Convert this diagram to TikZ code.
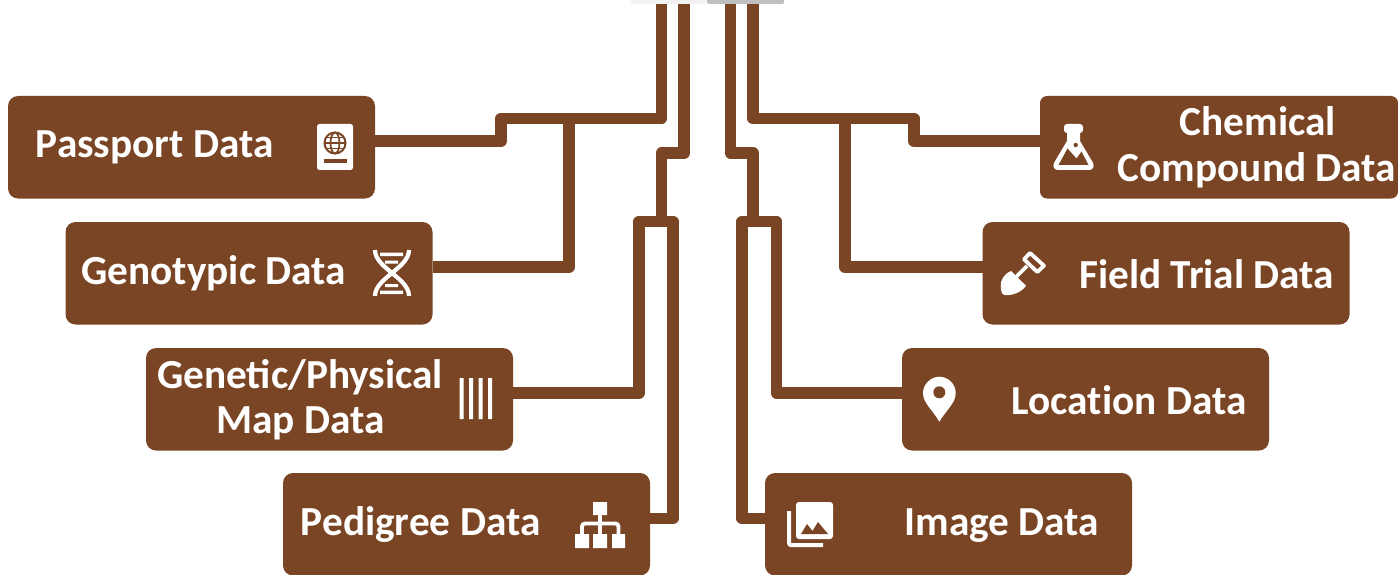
\documentclass[tikz,border=0pt]{standalone}
\usepackage{fontspec}
\setmainfont{Carlito}[Ligatures=Common]
\definecolor{bark}{HTML}{7A4524}
\definecolor{barL}{HTML}{F2F2F2}
\definecolor{barD}{HTML}{BFBFBF}
\tikzset{
  databox/.style={fill=bark,draw=none,rounded corners=10pt,minimum width=367pt,minimum height=102.5pt,inner sep=0pt,outer sep=0pt,anchor=north west},
  lbl/.style={text=white,font=\fontsize{41.3}{41.3}\selectfont\bfseries,inner sep=0pt,outer sep=0pt,anchor=base},
  wire/.style={draw=bark,line width=11.6pt,line join=round},
  iconw/.style={fill=white,draw=none},
  iconb/.style={fill=bark,draw=none},
  iconl/.style={draw=white,fill=none,line width=4.2pt},
}
\begin{document}
\begin{tikzpicture}[x=1pt,y=-1pt]
\useasboundingbox (0,0) rectangle (1398,575);
\clip (0,0) rectangle (1398,575);
% top bars
\fill[barL,rounded corners=2pt] (631,-6) rectangle (707,4);
\fill[barD,rounded corners=2pt] (707,-6) rectangle (784,4);
\coordinate (topA) at (661.5,4);
\coordinate (topB) at (684,4);
\coordinate (topC) at (730.5,4);
\coordinate (topD) at (753,4);
% boxes
\node[databox] (passport) at (8,96) {};
\node[databox] (genotypic) at (65.5,222) {};
\node[databox] (genetic) at (146,348) {};
\node[databox] (pedigree) at (283,473) {};
\node[databox,minimum width=358pt,rounded corners=7pt] (chemical) at (1040,96) {};
\node[databox] (field) at (982.5,222) {};
\node[databox] (location) at (902,348) {};
\node[databox] (image) at (765,473) {};
% junctions
\coordinate (jA) at (569,118.5);
\coordinate (jB) at (661.5,221.5);
\coordinate (jC) at (753,221.5);
\coordinate (jD) at (845,118.5);
% wires
\draw[wire] (topA) |- (501,118.5) |- (passport.east |- 0,141);
\draw[wire] (jA) |- (genotypic.east |- 0,267);
\draw[wire] (topB) |- (661.5,153) -- (jB);
\draw[wire] (jB) -| (639,393) -- (genetic.east |- 0,393);
\draw[wire] (jB) -| (673,518.5) -- (pedigree.east |- 0,518.5);
\draw[wire] (topC) |- (753,153) -- (jC);
\draw[wire] (jC) -| (742,518.5) -- (image.west |- 0,518.5);
\draw[wire] (jC) -| (776.5,393) -- (location.west |- 0,393);
\draw[wire] (topD) |- (914,118.5) |- (chemical.west |- 0,141);
\draw[wire] (jD) |- (field.west |- 0,267);
% labels
\node[lbl] (tPassport) at (154.7,158) {Passport Data};
\node[lbl] (tGenotypic) at (213.7,284) {Genotypic Data};
\node[lbl] (tGenetic) at (300,388.5) {Genetic/Physical};
\node[lbl] (tMap) at (300.5,433.5) {Map Data};
\node[lbl] (tPedigree) at (420.7,535.5) {Pedigree Data};
\node[lbl] (tChemical) at (1257.7,136) {Chemical};
\node[lbl] (tCompound) at (1257,182) {Compound Data};
\node[lbl] (tField) at (1206.7,288) {Field Trial Data};
\node[lbl] (tLocation) at (1129,414) {Locat\kern0pt ion Data};
\node[lbl] (tImage) at (1001.7,535.5) {Image Data};
% passport icon
\fill[iconw,rounded corners=2.5pt] (317,124) rectangle (353,170);
\draw[bark,line width=2pt] (335,143) circle (10.5);
\draw[bark,line width=1.7pt] (335,143) ellipse (4.5 and 10.5);
\draw[bark,line width=1.7pt] (324.5,143) -- (345.5,143) (326,137.5) -- (344,137.5) (326,148.5) -- (344,148.5);
\fill[bark] (324,159) rectangle (347,163);
% DNA icon
\draw[iconl] (375,250) .. controls (375,268) and (409,278) .. (409,296);
\draw[iconl] (409,250) .. controls (409,268) and (375,278) .. (375,296);
\fill[iconw] (380,252.7) rectangle (403,256) (385,260.5) rectangle (398,263.5) (385,284) rectangle (398,287) (380,290.7) rectangle (403,294);
% map icon
\fill[iconw] (459.5,378) rectangle (463.5,419) (469,378) rectangle (473,419) (478.5,378) rectangle (482.5,419) (488,378) rectangle (492,419);
% pedigree icon
\fill[iconw] (593,502) rectangle (607,515) (575,534) rectangle (589,548) (593,534) rectangle (607,548) (612,534) rectangle (625,548);
\draw[draw=white,line width=3.8pt,rounded corners=3pt] (582,534) |- (618.5,523.5) -- (618.5,534);
\draw[draw=white,line width=3.8pt] (600,515) -- (600,534);
% image icon
\fill[iconw,rounded corners=3pt] (796,502) rectangle (833,539);
\fill[bark] (801,534) -- (807,524) -- (812.5,531) -- (818,522) -- (828,534) -- cycle;
\draw[draw=white,line width=4pt,rounded corners=2pt] (789,511) |- (823,545);
% flask icon
\fill[iconw,rounded corners=3pt] (1064,124) rectangle (1083,133);
\fill[iconw] (1067,130) -- (1067,141) -- (1054.5,162) .. controls (1052,166.5) and (1054,170) .. (1058,170) -- (1089,170) .. controls (1093,170) and (1095,166.5) .. (1092.5,162) -- (1080,141) -- (1080,130) -- cycle;
\fill[bark] (1067.5,148.5) -- (1058.5,165) -- (1088.5,165) -- (1081.5,151.5) -- (1076.5,158.5) -- cycle;
\fill[bark] (1075.7,145) circle (2.2);
% shovel icon
\draw[draw=white,fill=none,line width=3.8pt,line join=round] (1030,253) -- (1044,265.7) -- (1037.3,272) -- (1024,259.3) -- cycle;
\draw[draw=white,line width=3.8pt] (1027,266) -- (1015,278);
\fill[iconw] (1011,271) -- (1026,285.7) .. controls (1022,292) and (1012,296) .. (1005,295) .. controls (1002,295) and (1001,292) .. (1000.7,286) .. controls (1000.5,280) and (1004,274) .. (1011,271) -- cycle;
% pin icon
\fill[iconw] (939.3,421.7) .. controls (932,409) and (923,403) .. (923,393) .. controls (923,384) and (931,376.7) .. (939.3,376.7) .. controls (948,376.7) and (955.7,384) .. (955.7,393) .. controls (955.7,403) and (947,409) .. (939.3,421.7) -- cycle;
\fill[bark] (939.3,392.3) circle (6);
\end{tikzpicture}
\end{document}
